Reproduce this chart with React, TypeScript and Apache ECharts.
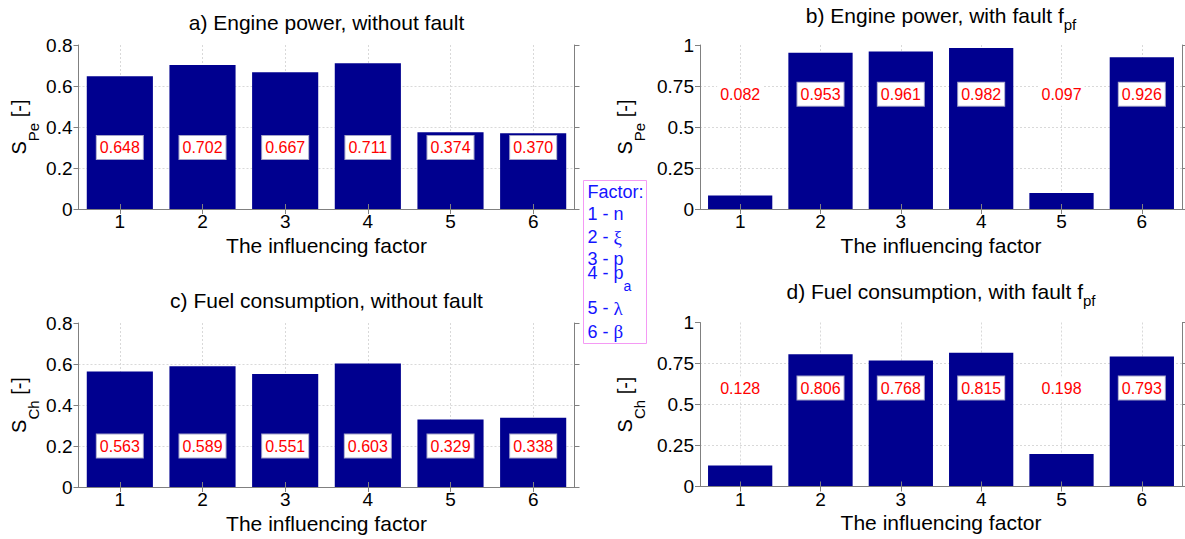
import { useEffect, useRef } from 'react';
import * as echarts from 'echarts';

// ---- data ----
const factors = ['1', '2', '3', '4', '5', '6'];
const powerNoFault = [0.648, 0.702, 0.667, 0.711, 0.374, 0.37];
const powerWithFault = [0.082, 0.953, 0.961, 0.982, 0.097, 0.926];
const fuelNoFault = [0.563, 0.589, 0.551, 0.603, 0.329, 0.338];
const fuelWithFault = [0.128, 0.806, 0.768, 0.815, 0.198, 0.793];

const panelValues = [powerNoFault, powerWithFault, fuelNoFault, fuelWithFault];
// value-axis height at which each panel's value tags are printed
const tagLevels = [0.3, 0.7, 0.2, 0.6];
const axisMax = [0.8, 1, 0.8, 1];
const axisStep = [0.2, 0.25, 0.2, 0.25];

const panelTitles = [
  { main: 'a) Engine power, without fault', sub: '' },
  { main: 'b) Engine power, with fault f', sub: 'pf' },
  { main: 'c) Fuel consumption, without fault', sub: '' },
  { main: 'd) Fuel consumption, with fault f', sub: 'pf' },
];
const yNames = [
  { main: 'S', sub: 'Pe' },
  { main: 'S', sub: 'Pe' },
  { main: 'S', sub: 'Ch' },
  { main: 'S', sub: 'Ch' },
];
const xName = 'The influencing factor';

const legendHeading = 'Factor:';
const legendEntries = [
  { num: '1', sym: 'n', greek: false, sub: '' },
  { num: '2', sym: 'ξ', greek: true, sub: '' },
  { num: '3', sym: 'p', greek: false, sub: '' },
  { num: '4', sym: 'p', greek: false, sub: 'a' },
  { num: '5', sym: 'λ', greek: true, sub: '' },
  { num: '6', sym: 'β', greek: true, sub: '' },
];

// ---- layout / style ----
const SANS = '"Liberation Sans", Arial, Helvetica, sans-serif';
const SERIF = '"Liberation Serif", "Times New Roman", serif';
const BAR_COLOR = '#00008F';
const BOX_COLOR = '#808080';
const GRID_COLOR = '#d9d9d9';
const TAG_COLOR = '#ff0000';
const LEGEND_TEXT = '#1414ff';

const panels = [
  { left: 78.5, top: 45, width: 496, height: 164, titleY: 22.7, yNameX: 18.5 },
  { left: 700, top: 45, width: 482, height: 164, titleY: 15, yNameX: 625 },
  { left: 78.5, top: 323, width: 496, height: 164, titleY: 300.7, yNameX: 18.5 },
  { left: 700, top: 322.5, width: 482, height: 164, titleY: 291.7, yNameX: 625 },
];

const legendBox = { x: 583.5, y: 180.5, width: 63, height: 163 };
const legendTextX = 587.5;
const legendLineY = [192.3, 214, 237.3, 258.8, 273.2, 308.3, 331.7];

function buildOption() {
  const grid: any[] = [];
  const xAxis: any[] = [];
  const yAxis: any[] = [];
  const series: any[] = [];
  const graphic: any[] = [];

  panels.forEach((p, i) => {
    grid.push({ left: p.left, top: p.top, width: p.width, height: p.height, containLabel: false });

    const boxLine = { show: true, lineStyle: { color: BOX_COLOR, width: 1 } };
    const outTick = { show: true, inside: false, length: 5, alignWithLabel: true, lineStyle: { color: BOX_COLOR, width: 1 } };

    // bottom category axis: bars, tick labels, axis title
    xAxis.push({
      gridIndex: i,
      type: 'category',
      data: factors,
      position: 'bottom',
      z: 3,
      axisLine: boxLine,
      axisTick: outTick,
      axisLabel: { color: '#000', fontSize: 19, fontFamily: SANS, margin: 3 },
      splitLine: { show: false },
      name: xName,
      nameLocation: 'middle',
      nameGap: 25.5,
      nameTextStyle: { color: '#000', fontSize: 21, fontFamily: SANS },
    });
    // top edge of the box with its ticks
    xAxis.push({
      gridIndex: i,
      type: 'category',
      data: factors,
      position: 'top',
      z: 3,
      axisLine: boxLine,
      axisTick: outTick,
      axisLabel: { show: false },
      splitLine: { show: false },
    });
    // vertical grid lines through the category centres
    xAxis.push({
      gridIndex: i,
      type: 'value',
      min: 0.5,
      max: 6.5,
      position: 'top',
      axisLine: { show: false },
      axisTick: { show: false },
      axisLabel: { show: false },
      splitLine: {
        show: true,
        showMinLine: false,
        showMaxLine: false,
        lineStyle: { color: GRID_COLOR, type: [2, 2], width: 1 },
      },
    });

    yAxis.push({
      gridIndex: i,
      type: 'value',
      min: 0,
      max: axisMax[i],
      interval: axisStep[i],
      position: 'left',
      axisLine: boxLine,
      axisTick: { show: true, inside: false, length: 5, lineStyle: { color: BOX_COLOR, width: 1 } },
      axisLabel: { color: '#000', fontSize: 19, fontFamily: SANS, margin: 6 },
      splitLine: {
        show: true,
        showMinLine: false,
        showMaxLine: false,
        lineStyle: { color: GRID_COLOR, type: [2, 2], width: 1 },
      },
    });
    yAxis.push({
      gridIndex: i,
      type: 'value',
      min: 0,
      max: axisMax[i],
      interval: axisStep[i],
      position: 'right',
      axisLine: boxLine,
      axisTick: { show: true, inside: false, length: 5, lineStyle: { color: BOX_COLOR, width: 1 } },
      axisLabel: { show: false },
      splitLine: { show: false },
    });

    const values = panelValues[i];
    const level = tagLevels[i];

    series.push({
      type: 'bar',
      xAxisIndex: 3 * i,
      yAxisIndex: 2 * i,
      data: values,
      barCategoryGap: '20%',
      itemStyle: { color: BAR_COLOR },
      silent: true,
      z: 2,
    });

    series.push({
      type: 'scatter',
      xAxisIndex: 3 * i,
      yAxisIndex: 2 * i,
      symbolSize: 1,
      itemStyle: { color: 'rgba(0,0,0,0)', opacity: 1 },
      silent: true,
      z: 5,
      data: values.map((v, j) => {
        const inBar = v > level;
        return {
          value: [j, level],
          label: {
            show: true,
            position: 'inside',
            formatter: v.toFixed(3),
            color: TAG_COLOR,
            fontSize: 16,
            fontFamily: SANS,
            opacity: 1,
            backgroundColor: '#ffffff',
            borderColor: inBar ? '#a4a4c8' : 'rgba(0,0,0,0)',
            borderWidth: inBar ? 1 : 0,
            padding: [4, 3, 3, 3],
          },
        };
      }),
    });

    // panel title with optional subscript
    const t = panelTitles[i];
    graphic.push({
      type: 'text',
      x: p.left + p.width / 2,
      y: p.titleY,
      silent: true,
      style: {
        text: t.sub ? `{m|${t.main}}{s|${t.sub}}` : `{m|${t.main}}`,
        align: 'center',
        verticalAlign: 'middle',
        rich: {
          m: { fontSize: 21, lineHeight: 24, fontFamily: SANS, fill: '#000' },
          s: { fontSize: 15, lineHeight: 15, fontFamily: SANS, fill: '#000', padding: [18, 0, 0, 0] },
        },
      },
    });

    // value-axis title, rotated, with subscript
    const yn = yNames[i];
    graphic.push({
      type: 'text',
      x: p.yNameX,
      y: p.top + p.height / 2,
      rotation: Math.PI / 2,
      silent: true,
      style: {
        text: `{m|${yn.main}}{s|${yn.sub}}{m| [-]}`,
        align: 'center',
        verticalAlign: 'middle',
        rich: {
          m: { fontSize: 20, lineHeight: 24, fontFamily: SANS, fill: '#000' },
          s: { fontSize: 15, lineHeight: 15, fontFamily: SANS, fill: '#000', padding: [29, 0, 0, 0] },
        },
      },
    });
  });

  // factor key
  graphic.push({
    type: 'rect',
    shape: { ...legendBox },
    silent: true,
    style: { fill: '#ffffff', stroke: '#f49af4', lineWidth: 1 },
    z: 10,
  });
  const legendRich = {
    m: { fontSize: 18, lineHeight: 20, fontFamily: SANS, fill: LEGEND_TEXT },
    g: { fontSize: 19, lineHeight: 20, fontFamily: SERIF, fill: LEGEND_TEXT },
    s: { fontSize: 14, lineHeight: 14, fontFamily: SANS, fill: LEGEND_TEXT, padding: [26, 0, 0, 0] },
  };
  graphic.push({
    type: 'text',
    x: legendTextX,
    y: legendLineY[0],
    silent: true,
    z: 11,
    style: { text: `{m|${legendHeading}}`, align: 'left', verticalAlign: 'middle', rich: legendRich },
  });
  legendEntries.forEach((e, k) => {
    let text = `{m|${e.num} - }`;
    text += e.greek ? `{g|${e.sym}}` : `{m|${e.sym}}`;
    if (e.sub) text += `{s|${e.sub}}`;
    graphic.push({
      type: 'text',
      x: legendTextX,
      y: legendLineY[k + 1],
      silent: true,
      z: 11,
      style: { text, align: 'left', verticalAlign: 'middle', rich: legendRich },
    });
  });

  return {
    animation: false,
    backgroundColor: '#ffffff',
    grid,
    xAxis,
    yAxis,
    series,
    graphic,
  };
}

export default function App() {
  const ref = useRef<HTMLDivElement>(null);
  useEffect(() => {
    if (!ref.current) return;
    const chart = echarts.init(ref.current, null, { renderer: 'svg' });
    chart.setOption(buildOption() as any);
    return () => chart.dispose();
  }, []);
  return (
    <div
      ref={ref}
      style={{ position: 'fixed', left: 0, top: 0, width: 1185, height: 539, background: '#ffffff' }}
    />
  );
}
